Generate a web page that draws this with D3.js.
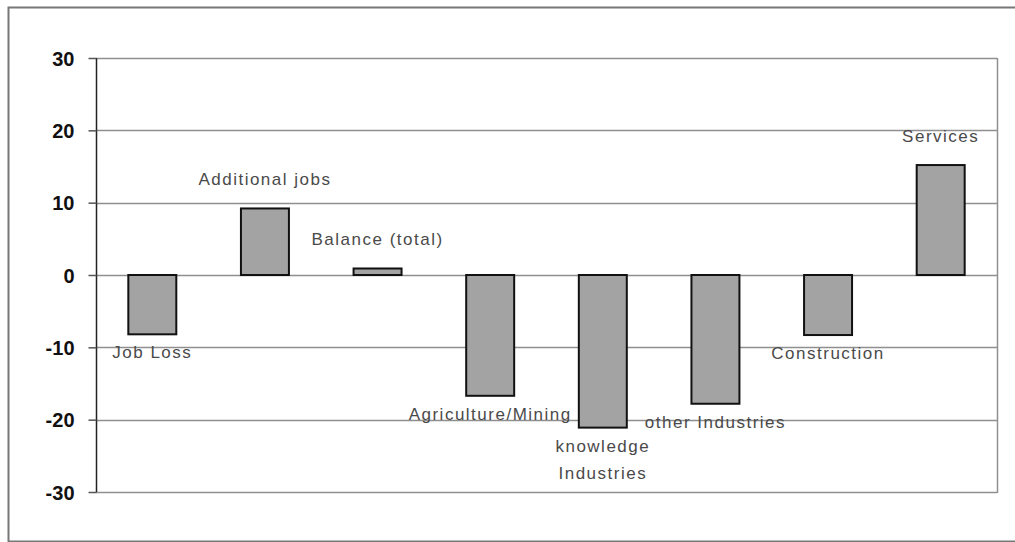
<!DOCTYPE html>
<html>
<head>
<meta charset="utf-8">
<script src="https://cdn.jsdelivr.net/npm/d3@7"></script>
<style>
  html, body { margin: 0; padding: 0; background: #fff; }
  svg { display: block; }
</style>
</head>
<body>
<svg id="chart" width="1015" height="542"></svg>
<script>
// Employment change by sector
const categories = [
  "Job Loss", "Additional jobs", "Balance (total)", "Agriculture/Mining",
  "knowledge Industries", "other Industries", "Construction", "Services"
];
const values = [-8.2, 9.2, 0.9, -16.7, -21.1, -17.8, -8.3, 15.2];
// label text per bar, split into lines
const labelLines = [
  ["Job Loss"], ["Additional jobs"], ["Balance (total)"], ["Agriculture/Mining"],
  ["knowledge", "Industries"], ["other Industries"], ["Construction"], ["Services"]
];
const yTicks = [-30, -20, -10, 0, 10, 20, 30];
const yTickLabels = ["-30", "-20", "-10", "0", "10", "20", "30"];

const svg = d3.select("#chart");
const W = 1015, H = 542;
const plot = { left: 96, right: 997, top: 58, bottom: 492 };

// outer frame
svg.append("rect")
  .attr("x", 8.5).attr("y", 7.5)
  .attr("width", W + 10).attr("height", H - 8)
  .attr("fill", "#fff")
  .attr("stroke", "#777").attr("stroke-width", 2);

const x = d3.scaleBand()
  .domain(categories)
  .range([plot.left, plot.right])
  .paddingInner(0.574)
  .paddingOuter(0.287);

const y = d3.scaleLinear()
  .domain([-30, 30])
  .range([plot.bottom, plot.top]);

// horizontal gridlines
svg.append("g")
  .selectAll("line")
  .data(yTicks)
  .join("line")
  .attr("x1", plot.left).attr("x2", plot.right)
  .attr("y1", d => Math.round(y(d)) + 0.5).attr("y2", d => Math.round(y(d)) + 0.5)
  .attr("stroke", "#8f8f8f").attr("stroke-width", 1.5);

// right border of plot area
svg.append("line")
  .attr("x1", plot.right + 0.5).attr("x2", plot.right + 0.5)
  .attr("y1", plot.top).attr("y2", plot.bottom + 1)
  .attr("stroke", "#8f8f8f").attr("stroke-width", 1.5);

// y axis
const yAxis = d3.axisLeft(y)
  .tickValues(yTicks)
  .tickSize(8)
  .tickPadding(14)
  .tickFormat((d, i) => yTickLabels[i]);

const gy = svg.append("g")
  .attr("transform", `translate(${plot.left + 0.5},0)`)
  .call(yAxis);
gy.select(".domain").attr("stroke", "#222").attr("stroke-width", 1.5)
  .attr("d", `M0,${plot.top}V${plot.bottom}`);
gy.selectAll(".tick line").attr("stroke", "#555").attr("stroke-width", 1.5);
gy.selectAll(".tick text")
  .attr("fill", "#111")
  .attr("font-family", "Liberation Sans, Arial, sans-serif")
  .attr("font-size", 20)
  .attr("font-weight", "bold")
  .attr("dy", "0.36em");

// bars
svg.append("g")
  .selectAll("rect")
  .data(values)
  .join("rect")
  .attr("x", (d, i) => x(categories[i]))
  .attr("width", x.bandwidth())
  .attr("y", d => y(Math.max(0, d)))
  .attr("height", d => Math.abs(y(d) - y(0)))
  .attr("fill", "#a3a3a3")
  .attr("stroke", "#111")
  .attr("stroke-width", 2);

// bar labels: above positive bars, below negative bars
const lineGap = 27;
const labels = svg.append("g")
  .attr("font-family", "Liberation Sans, Arial, sans-serif")
  .attr("font-size", 17)
  .attr("fill", "#4a4a4a")
  .attr("letter-spacing", "1.5px")
  .attr("text-anchor", "middle");

values.forEach((v, i) => {
  const cx = x(categories[i]) + x.bandwidth() / 2;
  const lines = labelLines[i];
  const baseY = v >= 0 ? y(v) - 29 : y(v) + 18;
  const t = labels.append("text")
    .attr("x", cx)
    .attr("y", baseY)
    .attr("dy", "0.35em");
  lines.forEach((ln, k) => {
    t.append("tspan")
      .attr("x", cx)
      .attr("dy", k === 0 ? "0.35em" : lineGap)
      .text(ln);
  });
});
</script>
</body>
</html>
